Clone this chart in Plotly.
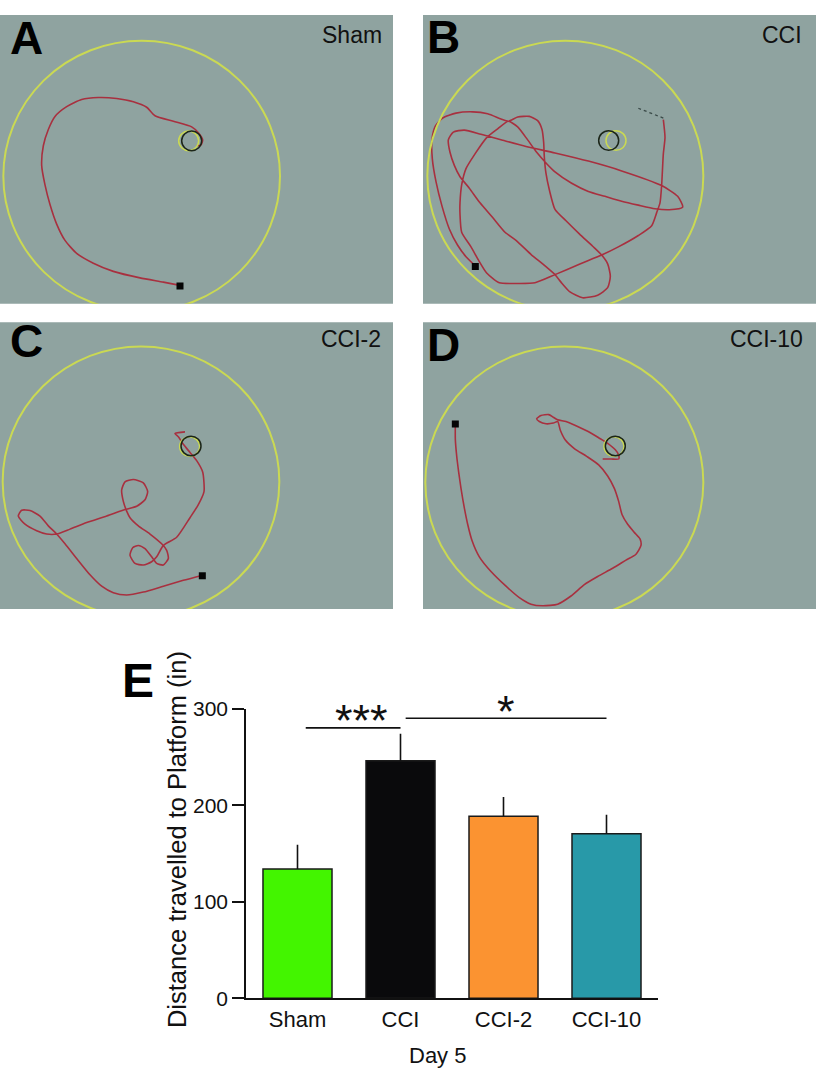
import plotly.graph_objects as go

# ---------------- Bar chart data (panel E) ----------------
groups = ["Sham", "CCI", "CCI-2", "CCI-10"]
distance_mean = [134, 246, 188.5, 170.5]
distance_sem = [25, 28, 20, 19.5]
bar_colors = ["#43f500", "#0a0a0c", "#fb9331", "#2899a8"]
y_ticks = [0, 100, 200, 300]

# ---------------- Swim tracks (arena units, 3 units per pixel) ----------------
sham_path = [(540, 838), (490, 828), (420, 815), (340, 795), (280, 770), (230, 740), (195, 700),
             (170, 650), (150, 590), (135, 530), (125, 470), (130, 410), (145, 360), (165, 320),
             (200, 290), (245, 268), (295, 262), (350, 265), (400, 275), (440, 292), (465, 318),
             (520, 335), (575, 352), (595, 370), (608, 392), (603, 407), (590, 410)]

cci_path = [(178, 778), (150, 750), (125, 715), (100, 665), (78, 595), (60, 520), (49, 450),
            (48, 390), (58, 350), (80, 325), (120, 310), (170, 306), (215, 312), (255, 328),
            (277, 335), (305, 322), (340, 320), (365, 333), (378, 360), (383, 400), (385, 445),
            (390, 495), (400, 545), (417, 605), (450, 640), (490, 680), (530, 718), (557, 745),
            (575, 772), (583, 810), (575, 845), (545, 868), (500, 876), (462, 858), (435, 828),
            (417, 805), (380, 772), (347, 745), (300, 700), (267, 675), (230, 630), (192, 585),
            (160, 540), (132, 505), (115, 470), (102, 430), (97, 392), (112, 368), (145, 362),
            (195, 375), (260, 393), (330, 412), (417, 432), (517, 457), (617, 487), (737, 532),
            (785, 565), (800, 598), (760, 606), (717, 603), (667, 592), (617, 580), (567, 565),
            (517, 550), (467, 525), (417, 490), (392, 465), (362, 430), (335, 392), (305, 352),
            (277, 335), (245, 358), (212, 385), (177, 435), (150, 480), (137, 530), (132, 585),
            (132, 620), (137, 675), (165, 720), (190, 765), (212, 800), (250, 830), (300, 832),
            (357, 830), (417, 805), (490, 773), (557, 745), (607, 720), (667, 685), (707, 655),
            (722, 615), (732, 585), (737, 530), (742, 435), (747, 385), (742, 330)]
cci_tail = [(742, 325), (667, 295)]

cci2_path = [(555, 357), (525, 362), (535, 372), (550, 395), (570, 420), (590, 445), (608, 480),
             (612, 540), (595, 580), (570, 620), (530, 680), (490, 705), (470, 740), (455, 755),
             (430, 765), (405, 760), (390, 735), (398, 712), (415, 705), (435, 715), (455, 740),
             (470, 760), (490, 765), (505, 745), (500, 720), (485, 700), (450, 670), (415, 645),
             (390, 620), (380, 600), (370, 570), (365, 535), (375, 510), (400, 503), (430, 513),
             (443, 540), (435, 565), (410, 585), (375, 595), (320, 615), (260, 635), (210, 655),
             (170, 670), (140, 670), (110, 660), (75, 640), (55, 615), (65, 597), (90, 598),
             (120, 615), (145, 645), (170, 670), (195, 700), (230, 745), (270, 795), (305, 830),
             (340, 850), (380, 857), (430, 848), (490, 830), (550, 812), (605, 797)]

cci10_path = [(118, 333), (118, 380), (122, 430), (128, 480), (135, 530), (145, 590), (155, 640),
              (168, 690), (190, 740), (225, 785), (270, 830), (310, 865), (345, 885), (380, 890),
              (425, 885), (465, 860), (505, 825), (545, 800), (590, 775), (630, 750), (660, 732),
              (675, 705), (672, 685), (655, 665), (635, 640), (618, 610), (608, 570), (595, 530),
              (575, 492), (548, 458), (512, 432), (475, 408), (448, 382), (433, 352), (425, 325),
              (412, 330), (390, 332), (370, 325), (362, 317), (375, 307), (398, 304), (412, 312),
              (425, 320), (450, 325), (480, 338), (515, 355), (548, 375), (575, 392), (598, 412),
              (608, 428), (608, 440), (585, 440), (560, 440)]

track_names = ["Sham", "CCI", "CCI-2", "CCI-10"]
track_letters = ["A", "B", "C", "D"]
tracks = [sham_path, cci_path, cci2_path, cci10_path]
start_points = [(540, 840), (178, 780), (607, 798), (118, 333)]
platform_black = [(575, 395), (578, 394), (573, 400), (598, 400)]
platform_yellow = [(566, 395), (600, 394), (569, 402), (594, 402)]
arena_circles = [(425, 503, 415), (448, 502, 414), (423, 510, 415), (445, 512, 417)]

W, H = 816, 1084
def px(x):
    return x / W
def py(y):
    return 1 - y / H

BG = "#8fa3a0"
YEL = "#cad953"
RED = "#a8303f"
FONT = "Arial, Liberation Sans, sans-serif"

# panel geometry in image pixels: (left, top, right, bottom) and arena-unit origin offsets
panel_boxes = [(0, 3, 393, 298), (423, 3, 816, 298), (0, 317, 393, 610), (423, 317, 816, 610)]
panel_origin = [(0, 0), (416, 0), (0, 310), (416, 310)]
label_pos = [(26.5, 26.5), (444, 26), (26, 336), (444, 340)]
name_pos = [(384, 23), (804, 23), (383, 334), (805, 334)]

fig = go.Figure()
layout_axes = {}
shapes = []
annotations = []

for i in range(4):
    n = i + 1
    xa = "x" if n == 1 else f"x{n}"
    ya = "y" if n == 1 else f"y{n}"
    l, t, r, b = panel_boxes[i]
    ox, oy = panel_origin[i]
    layout_axes["xaxis" if n == 1 else f"xaxis{n}"] = dict(
        domain=[px(l), px(r)], range=[(l - ox) * 3, (r - ox) * 3], visible=False, anchor=ya)
    layout_axes["yaxis" if n == 1 else f"yaxis{n}"] = dict(
        domain=[py(b), py(t)], range=[(b - oy) * 3, (t - oy) * 3], visible=False, anchor=xa)

    shapes.append(dict(type="rect", xref=f"{xa} domain", yref=f"{ya} domain", x0=0, x1=1, y0=0, y1=1,
                       fillcolor=BG, line=dict(width=0), layer="below"))
    cx, cy, rr = arena_circles[i]
    shapes.append(dict(type="circle", xref=xa, yref=ya, x0=cx - rr, x1=cx + rr, y0=cy - rr, y1=cy + rr,
                       line=dict(color=YEL, width=2), layer="above"))
    yx, yy = platform_yellow[i]
    shapes.append(dict(type="circle", xref=xa, yref=ya, x0=yx - 30, x1=yx + 30, y0=yy - 30, y1=yy + 30,
                       line=dict(color=YEL, width=1.5), layer="above"))
    bx, by = platform_black[i]
    shapes.append(dict(type="circle", xref=xa, yref=ya, x0=bx - 30, x1=bx + 30, y0=by - 30, y1=by + 30,
                       line=dict(color="#1c2619", width=1.5), layer="above"))

    path = tracks[i]
    fig.add_trace(go.Scatter(x=[p[0] for p in path], y=[p[1] for p in path], mode="lines",
                             line=dict(color=RED, width=1.6, shape="spline", smoothing=0.6),
                             xaxis=xa, yaxis=ya, showlegend=False, hoverinfo="skip"))
    if i == 1:
        fig.add_trace(go.Scatter(x=[p[0] for p in cci_tail], y=[p[1] for p in cci_tail], mode="lines",
                                 line=dict(color="#3a4a48", width=1.3, dash="dot"),
                                 xaxis=xa, yaxis=ya, showlegend=False, hoverinfo="skip"))
    sx, sy = start_points[i]
    fig.add_trace(go.Scatter(x=[sx], y=[sy], mode="markers",
                             marker=dict(symbol="square", size=7, color="#050505"),
                             xaxis=xa, yaxis=ya, showlegend=False, hoverinfo="skip"))

    lx, ly = label_pos[i]
    annotations.append(dict(text=f"<b>{track_letters[i]}</b>", x=px(lx), y=py(ly), xref="paper", yref="paper",
                            xanchor="center", yanchor="middle", showarrow=False,
                            font=dict(family=FONT, size=46, color="#000")))
    nx, ny = name_pos[i]
    annotations.append(dict(text=track_names[i], x=px(nx), y=py(ny), xref="paper", yref="paper",
                            xanchor="right", yanchor="middle", showarrow=False,
                            font=dict(family=FONT, size=23, color="#111")))

# ---------------- Panel E bar chart ----------------
fig.add_trace(go.Bar(
    x=groups, y=distance_mean, width=0.67,
    marker=dict(color=bar_colors, line=dict(color="#1a1a1a", width=1.5)),
    error_y=dict(type="data", array=distance_sem, arrayminus=[0] * len(groups), symmetric=False,
                 width=0, thickness=1.6, color="#111"),
    xaxis="x5", yaxis="y5", showlegend=False, hoverinfo="skip"))

layout_axes["xaxis5"] = dict(domain=[px(246), px(658)], range=[-0.5, 3.5], anchor="y5",
                             showline=True, linecolor="#111", linewidth=1.6, ticks="",
                             tickfont=dict(family=FONT, size=22, color="#111"), showgrid=False,
                             zeroline=False, fixedrange=True)
layout_axes["yaxis5"] = dict(domain=[py(1007.7), py(711.7)], range=[0, 300], anchor="x5",
                             showline=True, linecolor="#111", linewidth=1.6, ticks="outside",
                             ticklen=12, tickwidth=1.6, tickcolor="#111", tickvals=y_ticks,
                             tickfont=dict(family=FONT, size=21, color="#111"), showgrid=False,
                             zeroline=False, fixedrange=True)

shapes.append(dict(type="line", xref="x5", yref="y5", x0=0.08, x1=1.0, y0=280, y1=280,
                   line=dict(color="#111", width=1.6)))
shapes.append(dict(type="line", xref="x5", yref="y5", x0=1.05, x1=3.0, y0=290, y1=290,
                   line=dict(color="#111", width=1.6)))

annotations.append(dict(text="***", x=0.62, y=259, xref="x5", yref="y5", xanchor="center", yanchor="bottom",
                        showarrow=False, font=dict(family=FONT, size=45, color="#111")))
annotations.append(dict(text="*", x=2.02, y=269, xref="x5", yref="y5", xanchor="center", yanchor="bottom",
                        showarrow=False, font=dict(family=FONT, size=45, color="#111")))
annotations.append(dict(text="<b>E</b>", x=px(138), y=py(682.5), xref="paper", yref="paper",
                        xanchor="center", yanchor="middle", showarrow=False,
                        font=dict(family=FONT, size=48, color="#000")))
annotations.append(dict(text="Distance travelled to Platform (in)", x=px(177), y=py(846),
                        xref="paper", yref="paper", xanchor="center", yanchor="middle", textangle=-90,
                        showarrow=False, font=dict(family=FONT, size=25.5, color="#111")))
annotations.append(dict(text="Day 5", x=px(437), y=py(1066), xref="paper", yref="paper",
                        xanchor="center", yanchor="middle", showarrow=False,
                        font=dict(family=FONT, size=22, color="#111")))

fig.update_layout(width=W, height=H, margin=dict(l=0, r=0, t=0, b=0),
                  paper_bgcolor="white", plot_bgcolor="white",
                  shapes=shapes, annotations=annotations, **layout_axes)

fig.write_html("out.html", config={"displayModeBar": False},
               post_script="document.body.style.margin='0px';document.body.style.overflow='hidden';")
